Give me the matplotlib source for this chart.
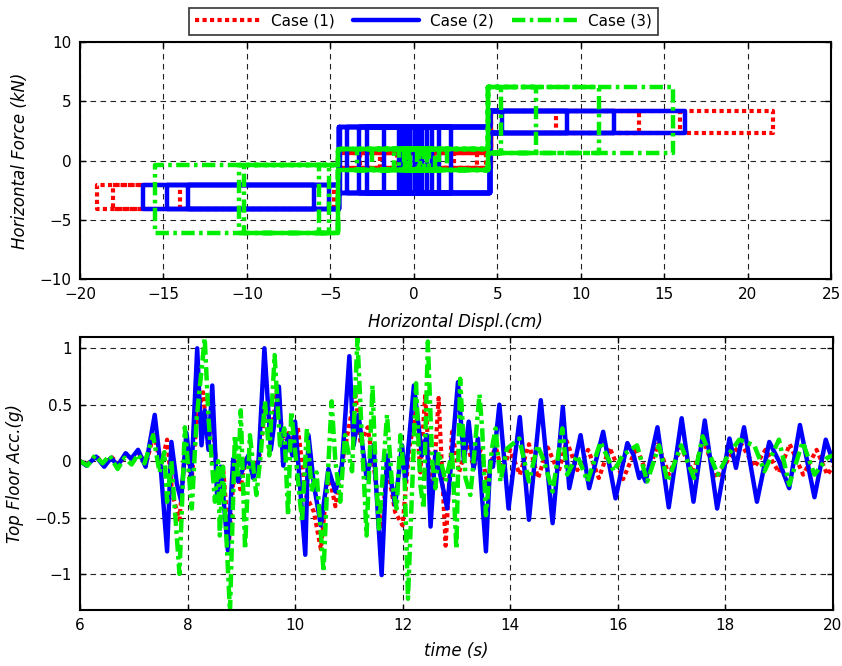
import matplotlib
matplotlib.use('Agg')
import matplotlib.pyplot as plt
import numpy as np

plt.rcParams['font.family'] = ['DejaVu Sans']
plt.rcParams['axes.unicode_minus'] = True

case_labels = ['Case (1)', 'Case (2)', 'Case (3)']
case_colors = ['#FF0000', '#0000FF', '#00EE00']

# ---- hysteresis: lock-up displacements, slip forces (moving right, moving left) and reversal history
edges_1 = (-4.5, 4.6)
mid_1, left_1, right_1 = (0.65, -0.6), (-2.1, -4.1), (4.2, 2.3)
rev_1 = [0, 0.5, -0.4, 1.2, -1.0, 2.4, -2.0, 3.8, -3.2, 8.5, -4.8, 13.5, -14.0,
         21.5, -19.0, 15.95, -18.0, 4.3, -0.5, 0.3, 0.0]

edges_2 = (-4.5, 4.56)
mid_2, left_2, right_2 = (2.85, -2.75), (-2.1, -4.1), (4.2, 2.3)
rev_2 = [0, 0.3, -0.2, 0.5, -0.4, 0.2, -0.7, 0.4, -0.5, 0.1, -0.85, 0.45, -0.3,
         1.1, -0.9, 1.5, -1.8, 2.2, -2.8, 9.18, -3.3, 16.25, -4.0, 5.3, -13.5,
         12.0, -16.2, -5.96, -14.8, -4.4, -5.1, 0.8, -0.6, 0.15, -0.25, 0.0]

edges_3 = (-4.55, 4.45)
mid_3, left_3, right_3 = (1.0, -0.8), (-0.4, -6.1), (6.2, 0.6)
rev_3 = [0, 0.4, -0.3, 0.8, -0.6, 0.2, -0.9, 1.3, -1.2, 0.6, -0.4, 2.0, -2.5,
         7.3, -3.4, 15.55, -10.15, 11.1, -15.5, 5.2, -10.5, -5.1, -5.7, 0.9,
         -0.5, 1.5, -0.2, 0.3, 0.0]

# ---- top floor acceleration, peaks and troughs (time s, acc g)
t_1 = [6.00, 6.13, 6.30, 6.45, 6.58, 6.72, 6.85, 6.97, 7.10, 7.22, 7.38, 7.50, 7.62, 7.72,
       7.85, 7.97, 8.07, 8.18, 8.29, 8.38, 8.46, 8.56, 8.66, 8.77, 8.88, 8.98, 9.10, 9.22,
       9.34, 9.45, 9.55, 9.66, 9.78, 9.88, 9.97, 10.05, 10.20, 10.35, 10.48, 10.62, 10.75,
       10.88, 11.02, 11.12, 11.22, 11.35, 11.48, 11.60, 11.72, 11.86, 12.00, 12.12, 12.25,
       12.33, 12.42, 12.52, 12.60, 12.67, 12.80, 12.92, 13.05, 13.20, 13.32, 13.45, 13.58,
       13.72, 13.85, 14.00, 14.18, 14.35, 14.52, 14.70, 14.90, 15.05, 15.25, 15.45, 15.65,
       15.85, 16.10, 16.35, 16.55, 16.75, 16.95, 17.18, 17.40, 17.60, 17.85, 18.10, 18.30,
       18.55, 18.75, 19.00, 19.20, 19.45, 19.70, 19.90, 20.00]
a_1 = [0.00, -0.03, 0.05, -0.04, 0.04, -0.03, 0.06, 0.02, 0.08, -0.04, 0.25, -0.05, 0.19, -0.30,
       -0.52, 0.20, -0.20, 0.40, 0.61, 0.15, 0.40, -0.20, -0.05, -0.72, 0.00, -0.25, 0.05, -0.12,
       0.05, 0.50, 0.20, 0.62, 0.20, 0.25, 0.10, 0.30, -0.30, -0.45, -0.78, -0.10, -0.40,
       0.00, 0.35, 0.61, 0.15, 0.30, -0.10, -0.60, -0.05, -0.45, -0.57, 0.10, 0.45,
       -0.10, 0.59, -0.25, 0.00, 0.56, -0.75, 0.26, -0.10, 0.15, -0.05, 0.10, -0.20,
       0.15, -0.10, 0.10, -0.12, 0.15, -0.15, 0.12, -0.10, 0.18, -0.08, 0.10, -0.15,
       0.12, -0.16, 0.12, -0.12, 0.15, -0.12, 0.12, -0.10, 0.18, -0.15, 0.05, 0.15,
       -0.05, 0.10, -0.10, 0.15, -0.12, 0.10, -0.12, -0.05]

t_2 = [6.00, 6.12, 6.30, 6.45, 6.58, 6.70, 6.85, 6.95, 7.08, 7.22, 7.39, 7.50, 7.62, 7.70,
       7.80, 7.88, 7.98, 8.07, 8.18, 8.26, 8.32, 8.39, 8.46, 8.55, 8.62, 8.75, 8.85, 8.94,
       9.13, 9.22, 9.32, 9.43, 9.55, 9.70, 9.78, 9.87, 9.95, 10.00, 10.19, 10.25, 10.35,
       10.48, 10.62, 10.75, 10.87, 11.01, 11.09, 11.18, 11.33, 11.46, 11.61, 11.71, 11.86,
       11.99, 12.05, 12.21, 12.36, 12.45, 12.52, 12.61, 12.70, 12.83, 13.03, 13.14, 13.23,
       13.32, 13.40, 13.55, 13.63, 13.68, 13.80, 13.97, 14.18, 14.35, 14.57, 14.79, 14.98,
       15.10, 15.31, 15.47, 15.73, 15.96, 16.18, 16.30, 16.40, 16.45, 16.52, 16.74, 16.95,
       17.19, 17.41, 17.62, 17.85, 18.08, 18.20, 18.35, 18.59, 18.82, 19.00, 19.19, 19.39,
       19.66, 19.87, 20.00]
a_2 = [0.00, -0.04, 0.04, -0.05, 0.03, -0.04, 0.07, 0.02, 0.10, -0.05, 0.41, -0.05, -0.80, 0.17,
       -0.20, -0.35, 0.25, -0.14, 1.00, 0.14, 0.45, 0.10, 0.67, -0.30, -0.05, -0.79, 0.02, -0.18,
       0.05, -0.15, 0.00, 1.00, 0.10, 0.66, -0.04, 0.23, 0.05, 0.35, -0.83, 0.23, -0.21,
       -0.57, -0.07, -0.27, -0.04, 0.93, 0.14, 0.41, -0.15, 0.14, -1.01, 0.05, -0.39,
       0.14, -0.18, 0.67, 0.05, 0.23, -0.58, 0.08, -0.12, -0.42, 0.70, 0.00, 0.35,
       -0.07, 0.20, -0.80, 0.00, -0.05, 0.50, -0.42, 0.39, -0.52, 0.54, -0.55, 0.48,
       -0.24, 0.23, -0.24, 0.26, -0.33, 0.16, 0.05, -0.15, -0.10, -0.18, 0.30, -0.41,
       0.38, -0.36, 0.36, -0.42, 0.20, -0.06, 0.30, -0.36, 0.17, 0.00, -0.24, 0.32,
       -0.32, 0.19, 0.00]

t_3 = [6.00, 6.14, 6.28, 6.42, 6.55, 6.70, 6.83, 6.96, 7.08, 7.20, 7.36, 7.48, 7.57, 7.62,
       7.70, 7.85, 7.95, 8.08, 8.17, 8.32, 8.39, 8.51, 8.57, 8.60, 8.66, 8.79, 8.88, 8.94,
       8.99, 9.07, 9.16, 9.28, 9.36, 9.44, 9.52, 9.62, 9.72, 9.80, 9.87, 9.93, 10.02, 10.13,
       10.22, 10.31, 10.40, 10.53, 10.59, 10.68, 10.75, 10.84, 10.93, 11.06, 11.16, 11.24,
       11.33, 11.44, 11.50, 11.56, 11.71, 11.80, 11.89, 11.96, 12.04, 12.10, 12.18, 12.25,
       12.33, 12.39, 12.47, 12.55, 12.61, 12.67, 12.80, 12.92, 13.00, 13.07, 13.17, 13.26,
       13.33, 13.43, 13.48, 13.55, 13.66, 13.73, 13.82, 13.94, 14.17, 14.35, 14.51, 14.63,
       14.79, 14.97, 15.06, 15.25, 15.44, 15.68, 15.93, 16.09, 16.36, 16.55, 16.77, 16.93,
       17.18, 17.42, 17.58, 17.86, 18.05, 18.26, 18.54, 18.73, 19.00, 19.19, 19.44, 19.66,
       19.90, 20.00]
a_3 = [0.00, -0.04, 0.05, -0.02, 0.05, -0.07, 0.03, -0.03, 0.06, -0.02, 0.23, -0.10, 0.08, -0.36,
       0.00, -1.00, 0.30, -0.42, 0.38, 1.09, 0.38, -0.36, 0.00, -0.66, -0.05, -1.34, 0.23, -0.15,
       0.45, -0.78, 0.23, -0.30, 0.05, 0.53, 0.05, 0.94, 0.14, 0.29, -0.48, 0.44, 0.00, -0.54,
       0.29, -0.27, -0.10, -0.98, -0.30, 0.53, 0.00, -0.36, 0.23, -0.09, 1.09, 0.23,
       -0.66, 0.67, -0.10, -0.60, 0.41, -0.18, -0.42, 0.23, -0.18, -1.22, -0.21, 0.69,
       -0.21, -0.42, 1.06, 0.00, -0.24, 0.08, -0.18, 0.08, -0.78, 0.73, -0.15, -0.30,
       0.05, 0.59, 0.29, -0.48, 0.11, 0.29, -0.18, 0.11, 0.20, -0.18, 0.14, 0.00,
       -0.27, 0.29, -0.12, 0.05, -0.18, 0.17, -0.09, 0.05, 0.14, -0.18, 0.14, -0.18,
       0.14, -0.15, 0.22, -0.12, 0.05, 0.19, 0.14, -0.09, 0.19, -0.21, 0.17, -0.12,
       0.03, 0.05]


def loop_path(reversals, edges, mid, left, right):
    # friction loop: upper slip force while moving right, lower while moving left
    def level(x, k):
        if x < edges[0]:
            return left[k]
        if x > edges[1]:
            return right[k]
        return mid[k]

    eps = 1e-9
    xs, fs = [], []
    for a, b in zip(reversals[:-1], reversals[1:]):
        k = 0 if b > a else 1
        step = eps if b > a else -eps
        xs.append(a); fs.append(level(a, k))
        lo, hi = min(a, b), max(a, b)
        crossings = sorted([e for e in edges if lo < e < hi], reverse=(b < a))
        for e in crossings:
            xs += [e, e]
            fs += [level(e - step, k), level(e + step, k)]
        xs.append(b); fs.append(level(b, k))
    return np.array(xs), np.array(fs)


fig = plt.figure(figsize=(8.42, 6.66), dpi=100)
fig.patch.set_facecolor('white')
ax1 = fig.add_axes([0.095, 0.581, 0.892, 0.356])
ax2 = fig.add_axes([0.095, 0.084, 0.894, 0.410])

styles = [dict(linestyle=(0, (1, 0.8)), linewidth=3.0, dash_capstyle='butt', dash_joinstyle='round'),
          dict(linestyle='-', linewidth=3.2, solid_joinstyle='round', solid_capstyle='round'),
          dict(linestyle=(0, (3, 1, 0.8, 1)), linewidth=3.2, dash_capstyle='butt', dash_joinstyle='round')]

loops = [(rev_1, edges_1, mid_1, left_1, right_1),
         (rev_2, edges_2, mid_2, left_2, right_2),
         (rev_3, edges_3, mid_3, left_3, right_3)]

handles = []
for (rev, edg, m, l, r), col, st, lab in zip(loops, case_colors, styles, case_labels):
    x, f = loop_path(rev, edg, m, l, r)
    h, = ax1.plot(x, f, color=col, label=lab, **st)
    handles.append(h)

for t, a, col, st in zip([t_1, t_2, t_3], [a_1, a_2, a_3], case_colors, styles):
    ax2.plot(t, a, color=col, **st)

grid_kw = dict(color='#222222', linestyle=(0, (5, 4)), linewidth=0.8)
for ax in (ax1, ax2):
    ax.grid(True, **grid_kw)
    ax.set_axisbelow(True)
    for s in ax.spines.values():
        s.set_linewidth(1.5)
    ax.tick_params(direction='in', length=4, width=1, labelsize=11,
                   top=True, right=True, pad=6)

ax1.set_xlim(-20, 25)
ax1.set_ylim(-10, 10)
ax1.set_xticks(np.arange(-20, 26, 5))
ax1.set_yticks(np.arange(-10, 11, 5))
ax1.set_xlabel('Horizontal Displ.(cm)', fontsize=12, style='italic', labelpad=8)
ax1.set_ylabel('Horizontal Force (kN)', fontsize=12, style='italic', labelpad=8)

ax2.set_xlim(6, 20)
ax2.set_ylim(-1.32, 1.1)
ax2.set_xticks(np.arange(6, 21, 2))
ax2.set_yticks([-1, -0.5, 0, 0.5, 1])
ax2.set_yticklabels(['\u22121', '\u22120.5', '0', '0.5', '1'])
ax2.set_xlabel('time (s)', fontsize=12, style='italic', labelpad=6)
ax2.set_ylabel('Top Floor Acc.(g)', fontsize=12, style='italic', labelpad=8)

leg = fig.legend(handles, case_labels, loc='upper center', bbox_to_anchor=(0.503, 1.0),
                 ncol=3, fontsize=11, frameon=True, fancybox=False, edgecolor='black',
                 handlelength=4.3, columnspacing=1.2, borderpad=0.4, handletextpad=0.7)
leg.get_frame().set_linewidth(1.2)

plt.savefig('out.png', dpi=100, facecolor='white')
print("DONE: out.png")
